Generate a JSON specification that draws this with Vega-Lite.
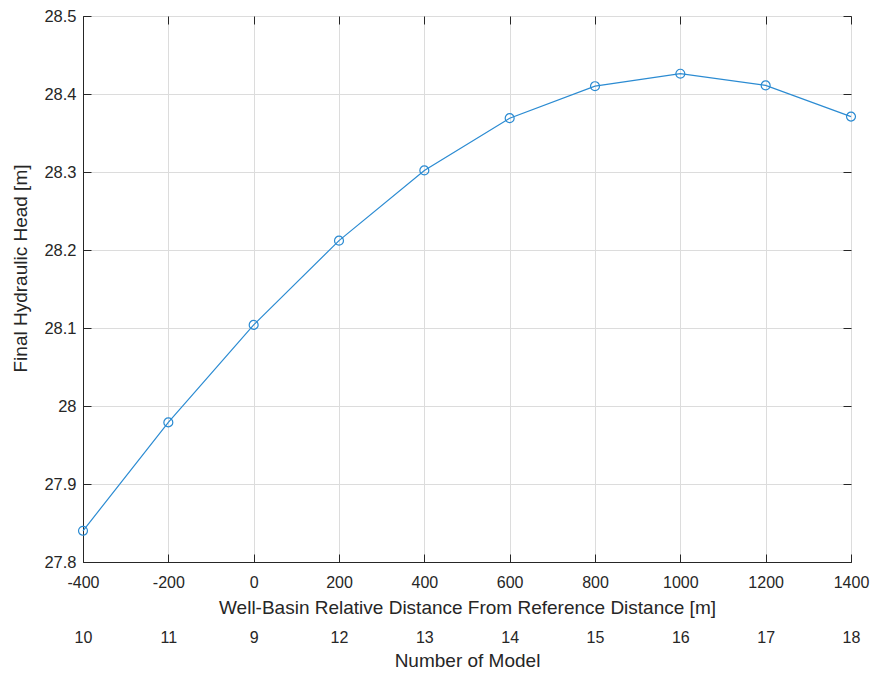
{
  "$schema": "https://vega.github.io/schema/vega-lite/v6.json",
  "autosize": {"type": "none"},
  "padding": {"left": 83, "top": 16, "right": 20, "bottom": 111},
  "width": 768,
  "height": 546,
  "background": "white",
  "config": {
    "font": "Liberation Sans",
    "view": {"stroke": "#262626", "strokeWidth": 1},
    "axis": {
      "labelFont": "Liberation Sans",
      "titleFont": "Liberation Sans",
      "labelColor": "#262626",
      "titleColor": "#262626",
      "labelFontSize": 16,
      "titleFontSize": 19,
      "titleFontWeight": "normal",
      "domainColor": "#262626",
      "tickColor": "#262626",
      "gridColor": "#dcdcdc",
      "gridOpacity": 1
    }
  },
  "data": {
    "values": [
      {"distance": -400, "model": "10", "head": 27.840},
      {"distance": -200, "model": "11", "head": 27.979},
      {"distance": 0, "model": "9", "head": 28.104},
      {"distance": 200, "model": "12", "head": 28.212},
      {"distance": 400, "model": "13", "head": 28.302},
      {"distance": 600, "model": "14", "head": 28.369},
      {"distance": 800, "model": "15", "head": 28.410},
      {"distance": 1000, "model": "16", "head": 28.426},
      {"distance": 1200, "model": "17", "head": 28.411},
      {"distance": 1400, "model": "18", "head": 28.371}
    ]
  },
  "resolve": {"scale": {"x": "independent", "y": "independent"}, "axis": {"x": "independent", "y": "independent"}},
  "layer": [
    {
      "layer": [
        {
          "mark": {"type": "line", "color": "#2b8bd2", "strokeWidth": 1.2},
          "encoding": {}
        },
        {
          "mark": {"type": "point", "shape": "circle", "filled": false, "color": "#2b8bd2", "size": 80, "strokeWidth": 1.2, "opacity": 1}
        }
      ],
      "encoding": {
        "x": {
          "field": "distance", "type": "quantitative",
          "scale": {"domain": [-400, 1400], "nice": false, "zero": false},
          "axis": {
            "title": "Well-Basin Relative Distance From Reference Distance [m]",
            "values": [-400, -200, 0, 200, 400, 600, 800, 1000, 1200, 1400],
            "labelExpr": "'' + datum.value",
            "tickSize": -8, "labelPadding": 20, "titlePadding": 8,
            "grid": true, "labelFlush": false
          }
        },
        "y": {
          "field": "head", "type": "quantitative",
          "scale": {"domain": [27.8, 28.5], "nice": false, "zero": false},
          "axis": {
            "title": "Final Hydraulic Head [m]",
            "titleY": 252,
            "values": [27.8, 27.9, 28, 28.1, 28.2, 28.3, 28.4, 28.5],
            "labelExpr": "'' + datum.value",
            "labelFontSize": 16.5,
            "tickSize": -8, "labelPadding": 15, "titlePadding": 13,
            "grid": true
          }
        }
      }
    },
    {
      "mark": {"type": "point", "opacity": 0},
      "encoding": {
        "x": {
          "field": "model", "type": "ordinal", "sort": null,
          "scale": {"type": "point", "padding": 0},
          "axis": {
            "title": "Number of Model",
            "orient": "bottom", "offset": 67,
            "domain": false, "ticks": false, "tickSize": 0, "grid": false,
            "labelAngle": 0, "labelPadding": 0, "titlePadding": 6
          }
        },
        "y": {
          "field": "head", "type": "quantitative",
          "scale": {"domain": [27.8, 28.5], "nice": false, "zero": false},
          "axis": {
            "orient": "right", "title": null, "labels": false, "domain": false,
            "values": [27.8, 27.9, 28, 28.1, 28.2, 28.3, 28.4, 28.5],
            "tickSize": -8, "grid": false
          }
        }
      }
    },
    {
      "mark": {"type": "point", "opacity": 0},
      "encoding": {
        "x": {
          "field": "distance", "type": "quantitative",
          "scale": {"domain": [-400, 1400], "nice": false, "zero": false},
          "axis": {
            "orient": "top", "title": null, "labels": false, "domain": false,
            "values": [-400, -200, 0, 200, 400, 600, 800, 1000, 1200, 1400],
            "tickSize": -8, "grid": false
          }
        },
        "y": {
          "field": "head", "type": "quantitative",
          "scale": {"domain": [27.8, 28.5], "nice": false, "zero": false},
          "axis": null
        }
      }
    }
  ]
}
